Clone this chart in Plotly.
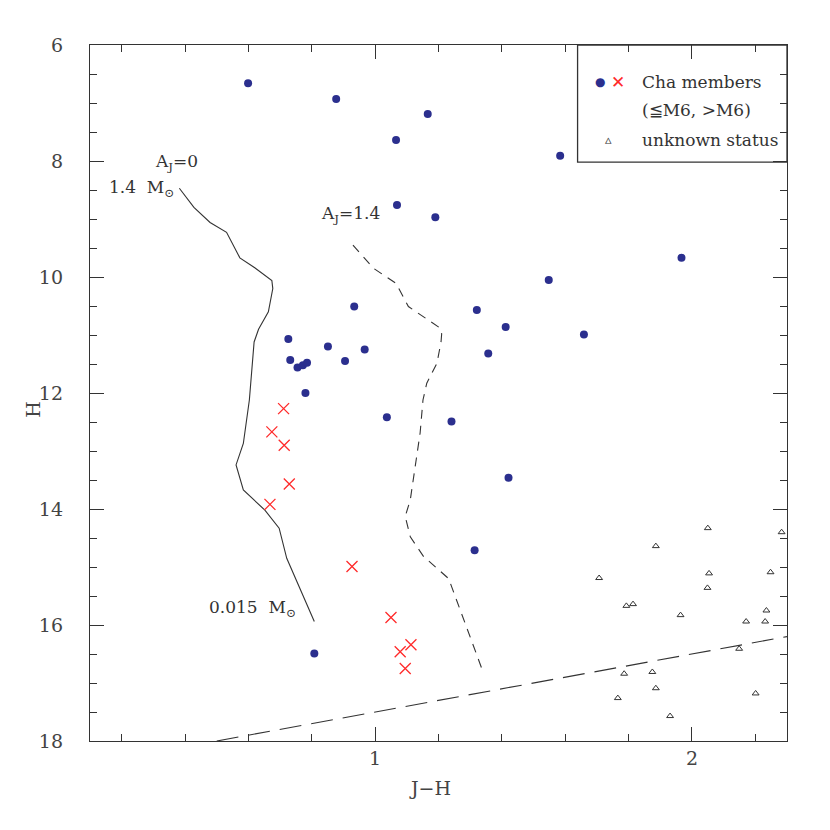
import plotly.graph_objects as go

# Cha members, spectral type <= M6 (filled dots)
early_jh = [0.599, 0.877, 1.166, 1.066, 1.584, 1.069, 1.190, 1.967, 1.548, 0.934,
            1.321, 1.412, 1.659, 1.357, 1.241, 1.421, 1.314, 0.726, 0.851, 0.967,
            0.732, 0.905, 0.755, 0.772, 0.785, 0.780, 1.037, 0.808]
early_h = [6.66, 6.93, 7.19, 7.64, 7.91, 8.76, 8.97, 9.67, 10.05, 10.51,
           10.57, 10.86, 10.99, 11.32, 12.49, 13.46, 14.71, 11.07, 11.20, 11.25,
           11.43, 11.45, 11.56, 11.52, 11.48, 12.00, 12.42, 16.49]

# Cha members later than M6 (crosses)
late_jh = [0.711, 0.674, 0.713, 0.729, 0.668, 0.927, 1.050, 1.113, 1.079, 1.095]
late_h = [12.27, 12.67, 12.90, 13.57, 13.92, 14.99, 15.87, 16.34, 16.46, 16.75]

# unknown status (open triangles)
unk_jh = [2.050, 2.283, 1.886, 1.707, 2.054, 2.248, 2.049, 1.793, 1.814, 1.964,
          2.235, 2.171, 2.231, 2.149, 1.786, 1.875, 1.886, 1.766, 2.201, 1.931]
unk_h = [14.33, 14.40, 14.64, 15.19, 15.11, 15.09, 15.36, 15.67, 15.64, 15.83,
         15.75, 15.94, 15.94, 16.41, 16.84, 16.81, 17.09, 17.26, 17.18, 17.57]

# isochrone, A_J = 0 (1.4 to 0.015 Msun)
iso0_jh = [0.382, 0.428, 0.479, 0.531, 0.573, 0.620, 0.674, 0.677, 0.663, 0.632,
           0.618, 0.610, 0.603, 0.584, 0.561, 0.584, 0.652, 0.697, 0.721, 0.808]
iso0_h = [8.47, 8.80, 9.06, 9.23, 9.67, 9.84, 10.06, 10.20, 10.60, 10.90,
          11.12, 11.72, 12.12, 12.87, 13.24, 13.67, 14.02, 14.33, 14.85, 15.94]

# isochrone reddened to A_J = 1.4
iso14_jh = [0.930, 0.995, 1.066, 1.105, 1.205, 1.210, 1.208, 1.195, 1.163, 1.151,
            1.142, 1.111, 1.095, 1.111, 1.153, 1.232, 1.342]
iso14_h = [9.45, 9.85, 10.11, 10.51, 10.88, 10.98, 11.12, 11.49, 11.83, 12.12,
           12.69, 13.84, 14.13, 14.48, 14.82, 15.20, 16.83]

# completeness limit
lim_jh = [0.5, 2.3]
lim_h = [18.0, 16.2]

FONT = "DejaVu Serif"
INK = "#333333"
GREY = "#444444"
BLUE = "#2b2f8e"
RED = "#ff2a2a"

fig = go.Figure()

fig.add_trace(go.Scatter(x=lim_jh, y=lim_h, mode="lines",
                         line=dict(color=INK, width=1.1, dash="22px,10px")))
fig.add_trace(go.Scatter(x=iso0_jh, y=iso0_h, mode="lines",
                         line=dict(color=INK, width=1.1)))
fig.add_trace(go.Scatter(x=iso14_jh, y=iso14_h, mode="lines",
                         line=dict(color=INK, width=1.1, dash="9px,7px")))
fig.add_trace(go.Scatter(x=early_jh, y=early_h, mode="markers",
                         marker=dict(color=BLUE, size=8, symbol="circle")))
fig.add_trace(go.Scatter(x=late_jh, y=late_h, mode="markers",
                         marker=dict(symbol="x-thin", size=11,
                                     line=dict(color=RED, width=1.3))))
fig.add_trace(go.Scatter(x=unk_jh, y=unk_h, mode="markers",
                         marker=dict(symbol="triangle-up-open", size=6, color=INK,
                                     line=dict(color=INK, width=1))))

# legend box
fig.add_shape(type="rect", xref="x", yref="y", x0=1.639, x1=2.3, y0=6.0, y1=8.02,
              line=dict(color=INK, width=1.3), fillcolor="rgba(0,0,0,0)")

txt = dict(family=FONT, size=17, color=INK)
notes = [
    (1.71, 6.63, f'<span style="color:{BLUE};font-size:12px">●</span>', "center"),
    (1.768, 6.63, f'<span style="color:{RED}">✕</span>', "center"),
    (1.837, 6.63, "Cha members", "left"),
    (1.837, 7.12, "(≦M6, >M6)", "left"),
    (1.737, 7.63, '<span style="font-size:13px">▵</span>', "center"),
    (1.837, 7.63, "unknown status", "left"),
    (0.374, 8.02, "A<sub>J</sub>=0", "center"),
    (0.153, 8.47, "1.4  M<sub>⊙</sub>", "left"),
    (0.921, 8.93, "A<sub>J</sub>=1.4", "center"),
    (0.757, 15.71, "0.015  M<sub>⊙</sub>", "right"),
]
for x, y, t, anc in notes:
    fig.add_annotation(x=x, y=y, xref="x", yref="y", text=t, showarrow=False,
                       xanchor=anc, yanchor="middle", font=txt)

# axis titles placed like the original (H sits below the 12 label)
ttl = dict(family=FONT, size=19, color=GREY)
fig.add_annotation(x=-0.082, y=0.477, xref="paper", yref="paper", text="H",
                   showarrow=False, textangle=-90, xanchor="center",
                   yanchor="middle", font=ttl)
fig.add_annotation(x=0.488, y=-0.068, xref="paper", yref="paper", text="J−H",
                   showarrow=False, xanchor="center", yanchor="middle", font=ttl)

axis_common = dict(showgrid=False, zeroline=False, showline=True, linecolor=INK,
                   linewidth=1.4, mirror="ticks", ticks="inside", ticklen=14,
                   tickwidth=1.2, tickcolor=INK,
                   tickfont=dict(family=FONT, size=19, color=GREY))

fig.update_xaxes(range=[0.1, 2.3], tick0=0, dtick=1,
                 minor=dict(dtick=0.2, tick0=0, ticks="inside", ticklen=7,
                            tickcolor=INK, tickwidth=1.1),
                 **axis_common)
fig.update_yaxes(range=[18, 6], tick0=0, dtick=2,
                 minor=dict(dtick=0.5, tick0=0, ticks="inside", ticklen=7,
                            tickcolor=INK, tickwidth=1.1),
                 ticklabelstandoff=22,
                 **axis_common)

# page body adds 8px, so figure is 822 wide and the margins are shifted
fig.update_layout(width=822, height=822, showlegend=False,
                  plot_bgcolor="white", paper_bgcolor="white",
                  margin=dict(l=82, r=43, t=37, b=89))

fig.write_html("out.html")
